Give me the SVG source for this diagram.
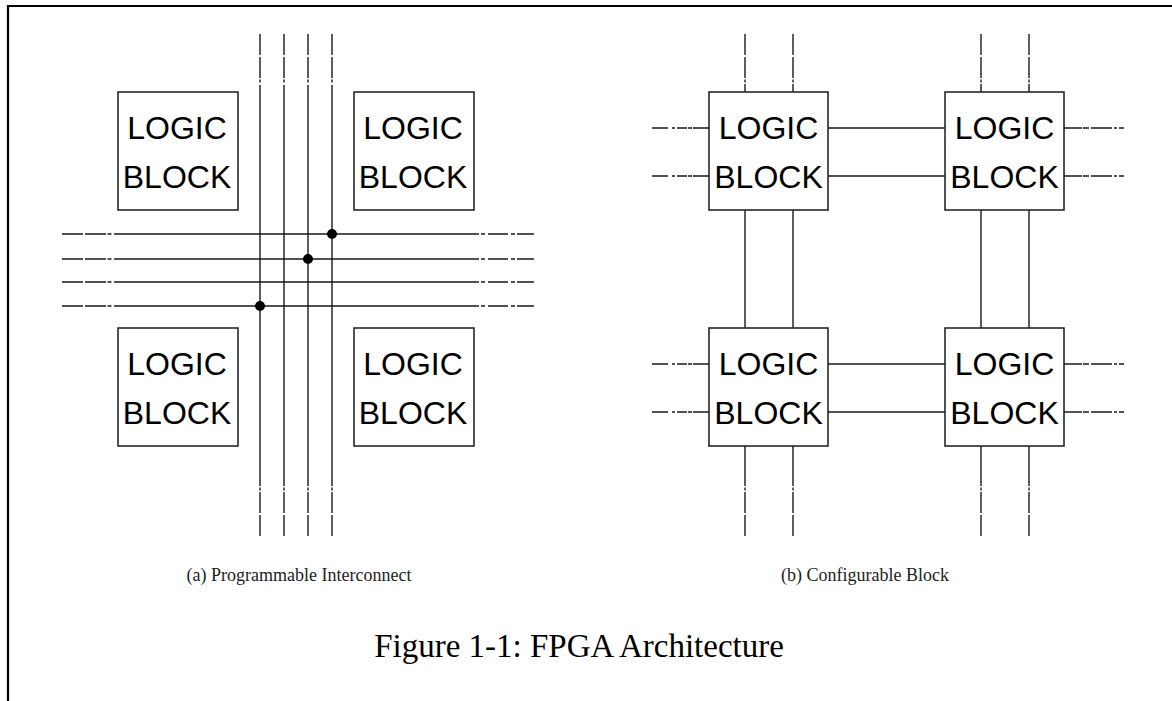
<svg xmlns="http://www.w3.org/2000/svg" width="1172" height="701" viewBox="0 0 1172 701">
  <style>
    .frame { fill: none; stroke: #000; stroke-width: 2.2; }
    .box { fill: #fff; stroke: #1a1a1a; stroke-width: 1.5; }
    .lbl { font-family: "Liberation Sans", Arial, sans-serif; font-size: 32px; fill: #000; text-anchor: middle; }
    .wire { fill: none; stroke: #1a1a1a; stroke-width: 1.4; }
    .stubV { fill: none; stroke: #1a1a1a; stroke-width: 1.4; stroke-dasharray: 21 2 21 1.5 3 2.5; }
    .stubL { fill: none; stroke: #1a1a1a; stroke-width: 1.4; stroke-dasharray: 21 2 21 1.5 4 2.5; }
    .stubR { fill: none; stroke: #1a1a1a; stroke-width: 1.4; stroke-dasharray: 17 2 4 3 20 3 4 2; }
    .stubBL { fill: none; stroke: #1a1a1a; stroke-width: 1.4; stroke-dasharray: 16 4 3 2 10 1 4 1; }
    .stubBR { fill: none; stroke: #1a1a1a; stroke-width: 1.4; stroke-dasharray: 5 2 3 2 21 2 6 1; }
    .dot { fill: #000; }
    .cap { font-family: "Liberation Serif", "Times New Roman", serif; font-size: 18px; fill: #222; text-anchor: middle; }
    .title { font-family: "Liberation Serif", "Times New Roman", serif; font-size: 33px; fill: #000; text-anchor: middle; }
  </style>

  <!-- page frame (top and left edges) -->
  <path class="frame" d="M8 701 V6 H1172"/>

  <!-- connectors -->
  <g id="connectors">
    <!-- (a) vertical routing tracks -->
    <g id="a-vertical">
      <path class="stubV" d="M260 34 V86 M284 34 V86 M308 34 V86 M332 34 V86"/>
      <path class="wire" d="M260 86 V486 M284 86 V486 M308 86 V486 M332 86 V486"/>
      <path class="stubV" d="M260 536 V486 M284 536 V486 M308 536 V486 M332 536 V486"/>
    </g>
    <!-- (a) horizontal routing tracks -->
    <g id="a-horizontal">
      <path class="stubL" d="M62 234 H115 M62 259 H115 M62 282 H115 M62 306 H115"/>
      <path class="wire" d="M115 234 H479 M115 259 H479 M115 282 H479 M115 306 H479"/>
      <path class="stubR" d="M534 234 H479 M534 259 H479 M534 282 H479 M534 306 H479"/>
    </g>
    <!-- (a) programmable switch points -->
    <g id="a-switches">
      <circle class="dot" cx="332" cy="234" r="5"/>
      <circle class="dot" cx="308" cy="259" r="5"/>
      <circle class="dot" cx="260" cy="306" r="5"/>
    </g>

    <!-- (b) vertical links -->
    <g id="b-vertical">
      <path class="stubV" d="M745 34 V84 M793 34 V84 M981 34 V84 M1029 34 V84"/>
      <path class="wire" d="M745 84 V92 M793 84 V92 M981 84 V92 M1029 84 V92"/>
      <path class="wire" d="M745 210 V328 M793 210 V328 M981 210 V328 M1029 210 V328"/>
      <path class="wire" d="M745 446 V486 M793 446 V486 M981 446 V486 M1029 446 V486"/>
      <path class="stubV" d="M745 536 V486 M793 536 V486 M981 536 V486 M1029 536 V486"/>
    </g>
    <!-- (b) horizontal links -->
    <g id="b-horizontal">
      <path class="stubBL" d="M652 128 H693 M652 176 H693 M652 364 H693 M652 412 H693"/>
      <path class="wire" d="M693 128 H709 M693 176 H709 M693 364 H709 M693 412 H709"/>
      <path class="wire" d="M828 128 H945 M828 176 H945 M828 364 H945 M828 412 H945"/>
      <path class="wire" d="M1064 128 H1082 M1064 176 H1082 M1064 364 H1082 M1064 412 H1082"/>
      <path class="stubBR" d="M1124 128 H1082 M1124 176 H1082 M1124 364 H1082 M1124 412 H1082"/>
    </g>
  </g>

  <!-- (a) programmable interconnect: logic blocks -->
  <g id="a-block-tl">
    <rect class="box" x="118" y="92" width="120" height="118"/>
    <text class="lbl" x="177" y="139">LOGIC</text>
    <text class="lbl" x="177" y="188">BLOCK</text>
  </g>
  <g id="a-block-tr">
    <rect class="box" x="354" y="92" width="120" height="118"/>
    <text class="lbl" x="413" y="139">LOGIC</text>
    <text class="lbl" x="413" y="188">BLOCK</text>
  </g>
  <g id="a-block-bl">
    <rect class="box" x="118" y="328" width="120" height="118"/>
    <text class="lbl" x="177" y="375">LOGIC</text>
    <text class="lbl" x="177" y="424">BLOCK</text>
  </g>
  <g id="a-block-br">
    <rect class="box" x="354" y="328" width="120" height="118"/>
    <text class="lbl" x="413" y="375">LOGIC</text>
    <text class="lbl" x="413" y="424">BLOCK</text>
  </g>

  <!-- (b) configurable blocks -->
  <g id="b-block-tl">
    <rect class="box" x="709" y="92" width="119" height="118"/>
    <text class="lbl" x="768.5" y="139">LOGIC</text>
    <text class="lbl" x="768.5" y="188">BLOCK</text>
  </g>
  <g id="b-block-tr">
    <rect class="box" x="945" y="92" width="119" height="118"/>
    <text class="lbl" x="1004.5" y="139">LOGIC</text>
    <text class="lbl" x="1004.5" y="188">BLOCK</text>
  </g>
  <g id="b-block-bl">
    <rect class="box" x="709" y="328" width="119" height="118"/>
    <text class="lbl" x="768.5" y="375">LOGIC</text>
    <text class="lbl" x="768.5" y="424">BLOCK</text>
  </g>
  <g id="b-block-br">
    <rect class="box" x="945" y="328" width="119" height="118"/>
    <text class="lbl" x="1004.5" y="375">LOGIC</text>
    <text class="lbl" x="1004.5" y="424">BLOCK</text>
  </g>

  <!-- captions -->
  <text class="cap" x="299" y="581">(a) Programmable Interconnect</text>
  <text class="cap" x="865" y="581">(b) Configurable Block</text>
  <text class="title" x="579" y="657">Figure 1-1: FPGA Architecture</text>
</svg>
